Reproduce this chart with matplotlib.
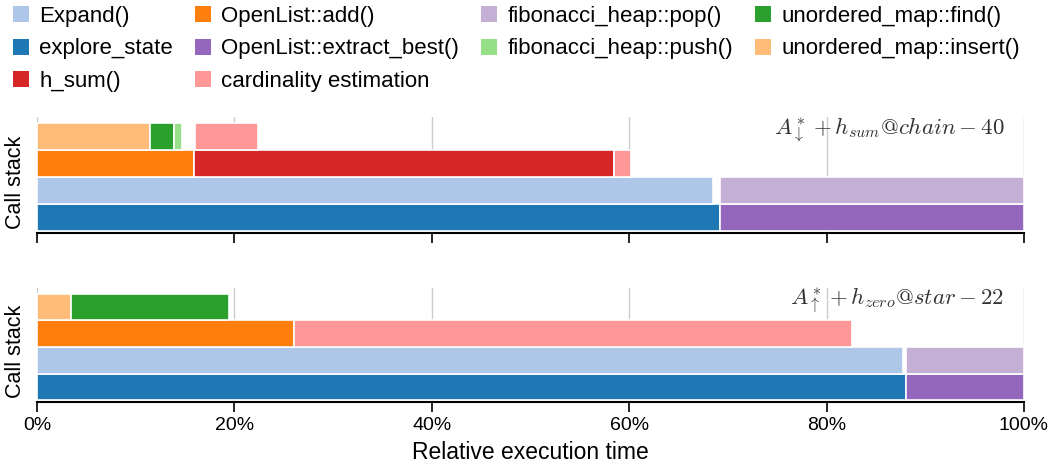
import matplotlib
matplotlib.use("Agg")
import matplotlib.pyplot as plt
from matplotlib.patches import Patch

plt.rcParams["font.family"] = ["Liberation Sans", "DejaVu Sans"]
plt.rcParams["mathtext.fontset"] = "cm"

# legend order / colours (tab20 pairs)
funcs = [
    "Expand()", "explore_state", "h_sum()",
    "OpenList::add()", "OpenList::extract_best()", "cardinality estimation",
    "fibonacci_heap::pop()", "fibonacci_heap::push()",
    "unordered_map::find()", "unordered_map::insert()",
]
colors = {
    "Expand()": "#aec7e8",
    "explore_state": "#1f77b4",
    "h_sum()": "#d62728",
    "OpenList::add()": "#ff7f0e",
    "OpenList::extract_best()": "#9467bd",
    "cardinality estimation": "#ff9896",
    "fibonacci_heap::pop()": "#c5b0d5",
    "fibonacci_heap::push()": "#98df8a",
    "unordered_map::find()": "#2ca02c",
    "unordered_map::insert()": "#ffbb78",
}

# A*(down) + h_sum @ chain-40 : frames in percent of runtime
chain_func = ["explore_state", "OpenList::extract_best()",
              "Expand()", "fibonacci_heap::pop()",
              "OpenList::add()", "h_sum()", "cardinality estimation",
              "unordered_map::insert()", "unordered_map::find()",
              "fibonacci_heap::push()", "cardinality estimation"]
chain_level = [0, 0, 1, 1, 2, 2, 2, 3, 3, 3, 3]
chain_start = [0.0, 69.2, 0.0, 69.2, 0.0, 15.9, 58.5, 0.0, 11.4, 13.9, 16.0]
chain_end = [69.2, 100.0, 68.5, 100.0, 15.9, 58.5, 60.2, 11.4, 13.9, 14.7, 22.4]

# A*(up) + h_zero @ star-22
star_func = ["explore_state", "OpenList::extract_best()",
             "Expand()", "fibonacci_heap::pop()",
             "OpenList::add()", "cardinality estimation",
             "unordered_map::insert()", "unordered_map::find()"]
star_level = [0, 0, 1, 1, 2, 2, 3, 3]
star_start = [0.0, 88.0, 0.0, 88.0, 0.0, 26.0, 0.0, 3.4]
star_end = [88.0, 100.0, 87.7, 100.0, 26.0, 82.6, 3.4, 19.5]

panels = [
    (chain_func, chain_level, chain_start, chain_end,
     r"$A^*_{\downarrow} + h_{sum}@chain - 40$"),
    (star_func, star_level, star_start, star_end,
     r"$A^*_{\uparrow} + h_{zero}@star - 22$"),
]

fig = plt.figure(figsize=(10.64, 4.68), dpi=100)
left, width = 37 / 1064, 987 / 1064
axes = [fig.add_axes([left, 0.502, width, 0.248]),
        fig.add_axes([left, 0.141, width, 0.244])]

for ax, (fn, lvl, st, en, title) in zip(axes, panels):
    ax.set_axisbelow(True)
    ax.grid(axis="x", color="#cccccc", linewidth=1)
    for f, l, s, e in zip(fn, lvl, st, en):
        ax.barh(l, e - s, left=s, height=1.0, color=colors[f],
                edgecolor="white", linewidth=1.2)
    ax.set_xlim(0, 100)
    ax.set_ylim(-0.57, 3.72)
    ax.set_xticks([0, 20, 40, 60, 80, 100])
    ax.set_yticks([])
    for side in ("left", "right", "top"):
        ax.spines[side].set_visible(False)
    ax.spines["bottom"].set_linewidth(1.5)
    ax.tick_params(axis="x", length=7, width=1.2, labelsize=14)
    ax.set_ylabel("Call stack", fontsize=15.5)
    ax.yaxis.set_label_coords(-0.011, 0.44)
    ax.text(0.98, 0.89, title, transform=ax.transAxes, ha="right",
            va="center", fontsize=16.5, color="#333333")

axes[0].tick_params(axis="x", labelbottom=False)
axes[1].set_xticklabels(["0%", "20%", "40%", "60%", "80%", "100%"])
axes[1].set_xlabel("Relative execution time", fontsize=16.5, labelpad=5)

handles = [Patch(facecolor=colors[f], edgecolor="none") for f in funcs]
fig.legend(handles, funcs, loc="upper left", bbox_to_anchor=(0.0, 1.016),
           ncol=4, frameon=False, fontsize=16, handlelength=0.72,
           handleheight=0.72, handletextpad=0.45, columnspacing=1.0,
           labelspacing=0.52, borderaxespad=0.2)

fig.savefig("out.png", dpi=100)
